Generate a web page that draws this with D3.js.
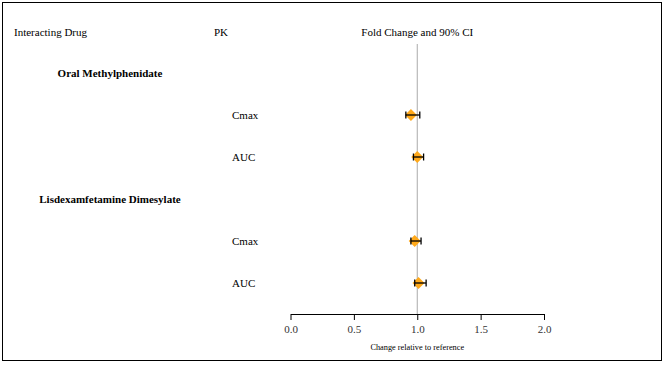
<!DOCTYPE html>
<html><head><meta charset="utf-8">
<script src="https://cdn.jsdelivr.net/npm/d3@7"></script>
<style>
body{margin:0;background:#fff;}
</style></head><body>
<svg id="c" width="664" height="365"></svg>
<script>
const groups = ["Oral Methylphenidate", "Lisdexamfetamine Dimesylate"];
const pkParams = ["Cmax", "AUC"];
const estimates = [0.95, 1.00, 0.98, 1.01];
const lowerCI = [0.91, 0.97, 0.95, 0.98];
const upperCI = [1.02, 1.05, 1.03, 1.07];
const tickValues = [0, 0.5, 1.0, 1.5, 2.0];
const FONT = "Liberation Serif";

const svg = d3.select("#c");
svg.append("rect").attr("x",2.5).attr("y",2.5).attr("width",659).attr("height",358)
  .attr("fill","none").attr("stroke","#000").attr("stroke-width",1);

const x = d3.scaleLinear().domain([0,2]).range([290.5,544]);
const rows = [];
groups.forEach((g,gi)=>{
  rows.push({type:"group",label:g});
  pkParams.forEach((p,pi)=>{
    const i = gi*pkParams.length+pi;
    rows.push({type:"pk",label:p,est:estimates[i],lo:lowerCI[i],hi:upperCI[i]});
  });
});
const y = d3.scalePoint().domain(d3.range(rows.length)).range([73,283]);

function txt(xx,yy,s,size){
  return svg.append("text").attr("x",xx).attr("y",yy).attr("font-size",size)
    .style("font-family",FONT).attr("fill","#000").text(s);
}
txt(14,36,"Interacting Drug",11);
txt(214,36,"PK",11);
txt(x(1),36,"Fold Change and 90% CI",11).attr("text-anchor","middle");

svg.append("line").attr("x1",x(1)).attr("x2",x(1)).attr("y1",44).attr("y2",314)
  .attr("stroke","#aaa").attr("stroke-width",1);

rows.forEach((r,i)=>{
  const yy = y(i);
  if(r.type==="group"){
    txt(110,yy+4,r.label,11).attr("font-weight","bold").attr("text-anchor","middle");
  } else {
    txt(232,yy+4,r.label,11);
    const d = 6;
    svg.append("path")
      .attr("d",`M${x(r.est)},${yy-d}L${x(r.est)+d},${yy}L${x(r.est)},${yy+d}L${x(r.est)-d},${yy}Z`)
      .attr("fill","#FFA91A");
    const g = svg.append("g").attr("stroke","#000").attr("stroke-width",1.3);
    g.append("line").attr("x1",x(r.lo)).attr("x2",x(r.hi)).attr("y1",yy).attr("y2",yy);
    g.append("line").attr("x1",x(r.lo)).attr("x2",x(r.lo)).attr("y1",yy-3.5).attr("y2",yy+3.5);
    g.append("line").attr("x1",x(r.hi)).attr("x2",x(r.hi)).attr("y1",yy-3.5).attr("y2",yy+3.5);
  }
});

const axis = d3.axisBottom(x).tickValues(tickValues).tickFormat(d3.format(".1f")).tickSize(6).tickSizeOuter(0);
const ag = svg.append("g").attr("transform","translate(0,314)").call(axis);
ag.attr("font-family",null);
ag.select(".domain").attr("stroke","#000").attr("stroke-width",1.2);
ag.selectAll(".tick line").attr("stroke","#000");
ag.selectAll(".tick text").attr("font-size",11).style("font-family",FONT).attr("fill","#333").attr("dy","0.9em");
txt(x(1),350,"Change relative to reference",8.3).attr("text-anchor","middle");
</script></body></html>
